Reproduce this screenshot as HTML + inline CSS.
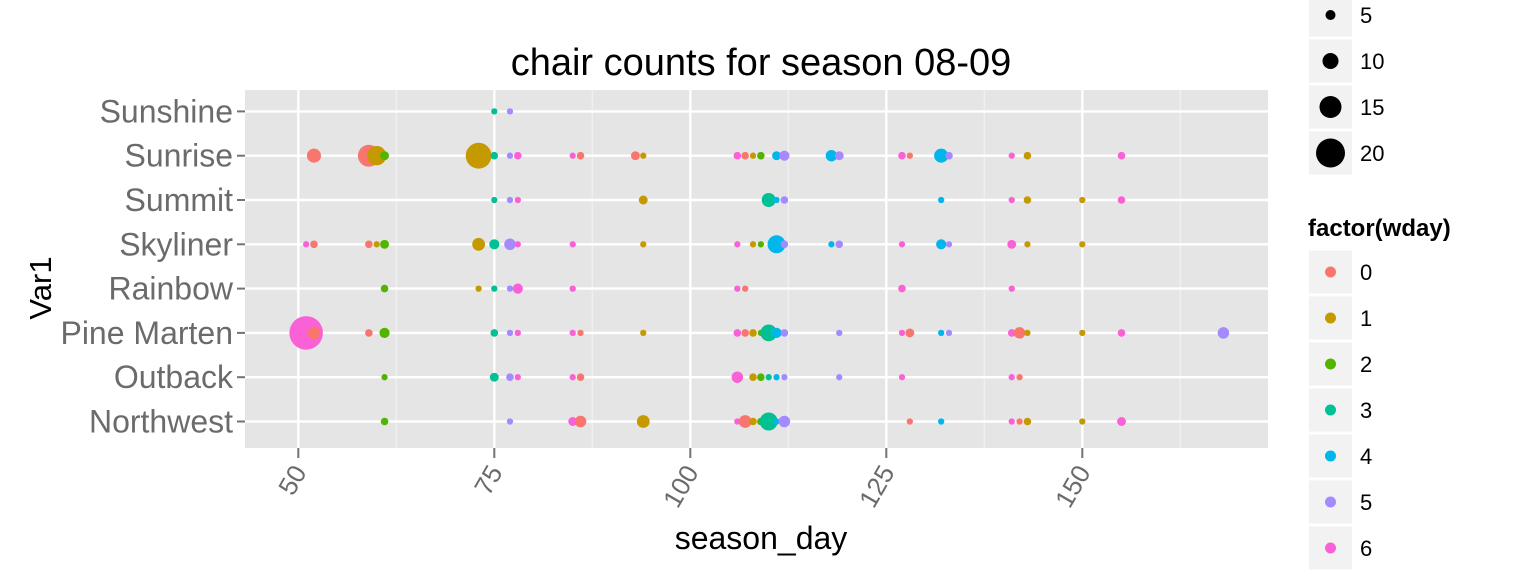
<!DOCTYPE html>
<html><head><meta charset="utf-8"><style>
html,body{margin:0;padding:0;background:#fff;}
svg{display:block;font-family:"Liberation Sans",Arial,sans-serif;}
</style></head><body>
<svg id="chart" width="1536" height="576" viewBox="0 0 1536 576">
<rect x="0" y="0" width="1536" height="576" fill="#fff"/>
<text x="761" y="75" text-anchor="middle" font-size="38" fill="#000">chair counts for season 08-09</text>
<rect x="245" y="90" width="1023" height="358" fill="#e5e5e5"/>
<g id="grid"></g><g id="yaxis"></g><g id="xaxis"></g><g id="pts"></g><g id="legend"></g>
<text x="761" y="549" text-anchor="middle" font-size="32" fill="#000">season_day</text>
<text transform="translate(51,288) rotate(-90)" text-anchor="middle" font-size="31" fill="#000">Var1</text>
</svg>
<script>
const lifts = ["Northwest","Outback","Pine Marten","Rainbow","Skyliner","Summit","Sunrise","Sunshine"];
const xTicks = [50,75,100,125,150];
const xMinor = [62.5,87.5,112.5,137.5,162.5];
const wdayLevels = [0,1,2,3,4,5,6];
const sizeBreaks = [5,10,15,20];
const palette = ["#F8766D","#C49A00","#53B400","#00C094","#00B6EB","#A58AFF","#FB61D7"];
// points: lift, day, wday, count
const ptLift = [
7,7,
6,6,6,6,6,6,6,6,6,6,6,6,6,6,6,6,6,6,6,6,6,6,6,6,6,6,6,
5,5,5,5,5,5,5,5,5,5,5,5,
4,4,4,4,4,4,4,4,4,4,4,4,4,4,4,4,4,4,4,4,4,4,4,4,
3,3,3,3,3,3,3,3,3,3,
2,2,2,2,2,2,2,2,2,2,2,2,2,2,2,2,2,2,2,2,2,2,2,2,2,2,2,2,
1,1,1,1,1,1,1,1,1,1,1,1,1,1,1,1,
0,0,0,0,0,0,0,0,0,0,0,0,0,0,0,0,0,0,0];
const ptDay = [
75,77,
52,59,60,61,73,75,77,78,85,86,93,94,106,107,108,109,111,112,118,119,127,128,132,133,141,143,155,
75,77,78,94,110,111,112,132,141,143,150,155,
51,52,59,60,61,73,75,77,78,85,94,106,108,109,111,112,118,119,127,132,133,141,143,150,
61,73,75,77,78,85,106,107,127,141,
51,52,59,61,75,77,78,85,86,94,106,107,108,109,110,111,112,119,127,128,132,133,141,142,143,150,155,168,
61,75,77,78,85,86,106,108,109,110,111,112,119,127,141,142,
61,77,85,86,94,106,107,108,109,110,111,112,128,132,141,142,143,150,155];
const ptWday = [
3,5,
0,0,1,2,1,3,5,6,6,0,0,1,6,0,1,2,4,5,4,5,6,0,4,5,6,1,6,
3,5,6,1,3,4,5,4,6,1,1,6,
6,0,0,1,2,1,3,5,6,6,1,6,1,2,4,5,4,5,6,4,5,6,1,1,
2,1,3,5,6,6,6,0,6,6,
6,0,0,2,3,5,6,6,0,1,6,0,1,2,3,4,5,5,6,0,4,5,6,0,1,1,6,5,
2,3,5,6,6,0,6,1,2,3,4,5,5,6,6,0,
2,5,6,0,1,6,0,1,2,3,4,5,0,4,6,0,1,1,6];
const ptCount = [
1,1,
7,13,11,3,16,2,1,2,1,2,3,1,2,2,1,2,3,4,5,3,2,1,7,2,1,2,2,
1,1,1,3,7,1,2,1,1,2,1,2,
1,2,2,1,3,6,4,5,1,1,1,1,1,1,10,2,1,2,1,4,1,3,1,1,
2,1,1,1,4,1,1,1,2,1,
22,6,2,4,2,1,1,1,1,1,2,2,2,1,9,4,2,1,1,3,1,1,2,5,1,1,2,5,
1,3,2,1,1,2,5,2,2,1,1,1,1,1,1,1,
2,1,3,5,6,1,6,2,2,10,1,5,1,1,1,1,2,1,3];

const NS="http://www.w3.org/2000/svg";
const X0=245,X1=1268,Y0=90,Y1=448;
function xs(d){return 298.3+(d-50)*7.84;}
function ys(i){return 421.5-i*44.3;}
function rs(n){return 2.5+0.65*n;}
function mk(tag,attrs,parent){const e=document.createElementNS(NS,tag);for(const k in attrs)e.setAttribute(k,attrs[k]);parent.appendChild(e);return e;}
const grid=document.getElementById('grid');
xMinor.forEach(v=>{const l=mk('line',{x1:xs(v),x2:xs(v),y1:Y0,y2:Y1,stroke:'#f2f2f2','stroke-width':1.2},grid);

});
xTicks.forEach(v=>{const l=mk('line',{x1:xs(v),x2:xs(v),y1:Y0,y2:Y1,stroke:'#fff','stroke-width':2.4},grid);

});
lifts.forEach((n,i)=>{const l=mk('line',{x1:X0,x2:X1,y1:ys(i),y2:ys(i),stroke:'#fff','stroke-width':2.4},grid);

});
const ya=document.getElementById('yaxis');
lifts.forEach((n,i)=>{mk('line',{x1:237,x2:245,y1:ys(i),y2:ys(i),stroke:'#737373','stroke-width':2},ya);
const t=mk('text',{x:233,y:ys(i)+11,'text-anchor':'end','font-size':32,fill:'#6b6b6b'},ya);t.textContent=n;

});
const xa=document.getElementById('xaxis');
xTicks.forEach(v=>{mk('line',{x1:xs(v),x2:xs(v),y1:448,y2:458,stroke:'#737373','stroke-width':2},xa);
const t=mk('text',{transform:`translate(${xs(v)+9},${472}) rotate(-60)`,'text-anchor':'end','font-size':26,fill:'#6b6b6b'},xa);t.textContent=v;

});
const pts=document.getElementById('pts');
ptDay.forEach((d,i)=>{const c=mk('circle',{cx:xs(d),cy:ys(ptLift[i]),r:rs(ptCount[i]),fill:palette[ptWday[i]]},pts);

});
const lg=document.getElementById('legend');
const sizeY=[15,61,107,153],sizeR=[5,8,11,14.5];
sizeBreaks.forEach((b,i)=>{mk('rect',{x:1309,y:sizeY[i]-21.5,width:43,height:43,fill:'#f2f2f2'},lg);
mk('circle',{cx:1330.5,cy:sizeY[i],r:sizeR[i],fill:'#000'},lg);
const t=mk('text',{x:1360,y:sizeY[i]+8,'font-size':22,fill:'#000'},lg);t.textContent=b;

});
const lt=mk('text',{x:1308,y:236,'font-size':24,'font-weight':'bold',fill:'#000'},lg);lt.textContent='factor(wday)';


wdayLevels.forEach((w,i)=>{const cy=272+i*46;
mk('rect',{x:1309,y:cy-21.5,width:43,height:43,fill:'#f2f2f2'},lg);
const c=mk('circle',{cx:1330.5,cy:cy,r:5.5,fill:palette[i]},lg);


const t=mk('text',{x:1360,y:cy+8,'font-size':22,fill:'#000'},lg);t.textContent=w;

});
</script>
</body></html>
